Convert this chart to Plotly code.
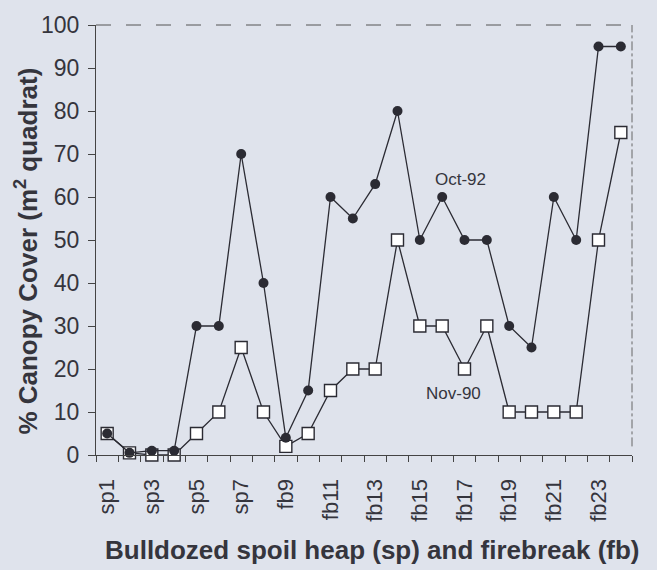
import plotly.graph_objects as go

categories = ["sp1","sp2","sp3","sp4","sp5","sp6","sp7","sp8",
              "fb9","fb10","fb11","fb12","fb13","fb14","fb15","fb16",
              "fb17","fb18","fb19","fb20","fb21","fb22","fb23","fb24"]
oct92 = [5, 0.5, 1, 1, 30, 30, 70, 40, 4, 15, 60, 55, 63, 80, 50, 60,
         50, 50, 30, 25, 60, 50, 95, 95]
nov90 = [5, 0.5, 0, 0, 5, 10, 25, 10, 2, 5, 15, 20, 20, 50, 30, 30,
         20, 30, 10, 10, 10, 10, 50, 75]
y_ticks = list(range(0, 101, 10))

xpos = list(range(1, len(categories) + 1))
tick_idx = [i for i in range(0, len(categories), 2)]

bg = "#dfe3ec"
ink = "#2b2b33"
txt = "#35353d"
font = "Liberation Sans, Arial, sans-serif"

fig = go.Figure()
fig.add_trace(go.Scatter(
    x=xpos, y=nov90, mode="lines+markers", name="Nov-90",
    line=dict(color=ink, width=1.3),
    marker=dict(symbol="square", size=12, color="white",
                line=dict(color=ink, width=1.4)),
    cliponaxis=False, showlegend=False))
fig.add_trace(go.Scatter(
    x=xpos, y=oct92, mode="lines+markers", name="Oct-92",
    line=dict(color=ink, width=1.3),
    marker=dict(symbol="circle", size=10, color=ink),
    cliponaxis=False, showlegend=False))

fig.add_annotation(x=16.8, y=64, text="Oct-92", showarrow=False,
                   font=dict(family=font, size=17, color=txt))
fig.add_annotation(x=16.5, y=14.4, text="Nov-90", showarrow=False,
                   font=dict(family=font, size=17, color=txt))

# axis titles as annotations (positioned like the reference)
fig.add_annotation(xref="paper", yref="paper", x=0.515, y=-0.221,
                   text="<b>Bulldozed spoil heap (sp) and firebreak (fb)</b>",
                   showarrow=False, xanchor="center", yanchor="middle",
                   font=dict(family=font, size=26, color=txt))
fig.add_annotation(xref="paper", yref="paper", x=-0.129, y=0.475,
                   text="<b>% Canopy Cover (m<sup>2</sup> quadrat)</b>",
                   showarrow=False, textangle=-90, xanchor="center", yanchor="middle",
                   font=dict(family=font, size=26, color=txt))

# frame (top & right, faint)
fig.add_shape(type="line", xref="paper", yref="paper", x0=0, x1=1, y0=1, y1=1,
              line=dict(color="#555", width=1, dash="longdash"))
fig.add_shape(type="line", xref="paper", yref="paper", x0=1.0, x1=1.0, y0=0.02, y1=1,
              line=dict(color="#666", width=1, dash="dashdot"))

fig.update_layout(
    width=657, height=570,
    paper_bgcolor=bg, plot_bgcolor=bg,
    margin=dict(l=96, r=25, t=17, b=115),
    font=dict(family=font, color=txt),
    xaxis=dict(
        range=[0.5, 24.5], tickmode="array",
        tickvals=[xpos[i] for i in tick_idx],
        ticktext=[categories[i] for i in tick_idx],
        tickangle=-90, ticks="", showgrid=False, zeroline=False,
        showline=True, linecolor="#444", linewidth=1.3,
        ticklabelstandoff=14,
        tickfont=dict(family=font, size=22, color=txt),
        minor=dict(tickmode="linear", tick0=0.5, dtick=1, ticks="outside",
                   ticklen=6, tickcolor="#444", showgrid=False),
    ),
    yaxis=dict(
        range=[0, 100], tickmode="array", tickvals=y_ticks,
        ticks="outside", ticklen=7, tickcolor="#444",
        showgrid=False, zeroline=False,
        showline=True, linecolor="#444", linewidth=1.3,
        ticklabelstandoff=4,
        tickfont=dict(family=font, size=23, color=txt),
    ),
)

fig.write_html(
    "out.html",
    config={"displayModeBar": False},
    post_script="document.body.style.margin='0';document.body.style.background='%s';" % bg,
)
